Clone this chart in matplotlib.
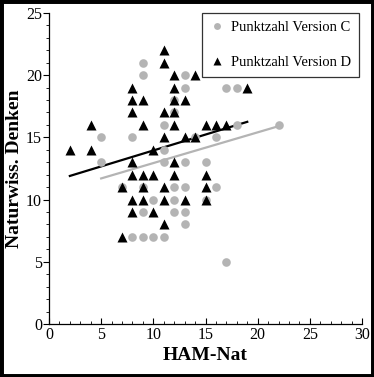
import matplotlib
matplotlib.use("Agg")
import matplotlib.pyplot as plt
from matplotlib.patches import Rectangle
from matplotlib.ticker import MultipleLocator

plt.rcParams["font.family"] = ["Liberation Serif", "DejaVu Serif"]

# --- Punktzahl Version C (grey circles) ---
c_x = [9, 9, 13, 13, 17, 18, 12, 12, 11, 18, 22, 5, 8, 14, 16, 11, 5, 11, 13,
       15, 7, 9, 12, 13, 16, 10, 12, 15, 9, 12, 13, 13, 8, 9, 10, 11, 17]
c_y = [21, 20, 20, 19, 19, 19, 18, 17, 16, 16, 16, 15, 15, 15, 15, 14, 13, 13, 13,
       13, 11, 11, 11, 11, 11, 10, 10, 10, 9, 9, 9, 8, 7, 7, 7, 7, 5]

# --- Punktzahl Version D (black triangles) ---
d_x = [2, 4, 4, 8, 8, 9, 8, 9, 11, 11, 12, 14, 12, 12, 13, 11, 12, 12, 11, 13,
       14, 10, 15, 16, 17, 19, 8, 12, 8, 9, 10, 12, 15, 7, 9, 11, 15, 8, 9, 11,
       13, 15, 8, 10, 11, 7]
d_y = [14, 16, 14, 19, 18, 18, 17, 16, 22, 21, 20, 20, 19, 18, 18, 17, 17, 16, 15, 15,
       15, 14, 16, 16, 16, 19, 13, 13, 12, 12, 12, 12, 12, 11, 11, 11, 11, 10, 10, 10,
       10, 10, 9, 9, 8, 7]

# regression lines (end points)
fit_c_x = [5, 22]
fit_c_y = [11.7, 15.9]
fit_d_x = [2, 19]
fit_d_y = [11.9, 16.25]

GREY = "#b4b4b4"

fig = plt.figure(figsize=(3.74, 3.77), dpi=100)
ax = fig.add_axes([0.131, 0.1406, 0.837, 0.825])

ax.plot(fit_c_x, fit_c_y, color=GREY, lw=1.6, zorder=2)
ax.plot(fit_d_x, fit_d_y, color="black", lw=1.6, zorder=2)
ax.plot(c_x, c_y, "o", color=GREY, ms=6.2, mec="none", zorder=3,
        label="Punktzahl Version C")
ax.plot(d_x, d_y, "^", color="black", ms=6.8, mec="none", zorder=4,
        label="Punktzahl Version D")

ax.set_xlim(0, 30)
ax.set_ylim(0, 25)
ax.xaxis.set_major_locator(MultipleLocator(5))
ax.xaxis.set_minor_locator(MultipleLocator(1))
ax.yaxis.set_major_locator(MultipleLocator(5))
ax.yaxis.set_minor_locator(MultipleLocator(1))
ax.tick_params(axis="x", which="major", direction="in", length=4, width=0.8,
               labelsize=11.5, pad=2)
ax.tick_params(axis="x", which="minor", direction="in", length=2, width=0.6)
ax.tick_params(axis="y", which="major", direction="out", length=4, width=0.8,
               labelsize=11.5, pad=1)
ax.tick_params(axis="y", which="minor", direction="out", length=2, width=0.6)
for s in ["top", "right"]:
    ax.spines[s].set_visible(False)
for s in ["left", "bottom"]:
    ax.spines[s].set_linewidth(0.9)

ax.set_xlabel("HAM-Nat", fontsize=14, fontweight="bold", labelpad=3)
ax.set_ylabel("Naturwiss. Denken", fontsize=14, fontweight="bold", labelpad=2)

leg = ax.legend(loc="upper right", bbox_to_anchor=(0.96, 0.9655),
                bbox_transform=fig.transFigure, borderaxespad=0,
                fontsize=10.5, frameon=True, fancybox=False, labelspacing=1.5,
                handlelength=0.9, handletextpad=0.5, borderpad=0.55,
                markerscale=0.8)
leg.get_frame().set_edgecolor("black")
leg.get_frame().set_linewidth(0.9)

fig.patches.append(Rectangle((0, 0), 1, 1, transform=fig.transFigure,
                             fill=False, edgecolor="black", lw=5))

fig.savefig("out.png", dpi=100)
